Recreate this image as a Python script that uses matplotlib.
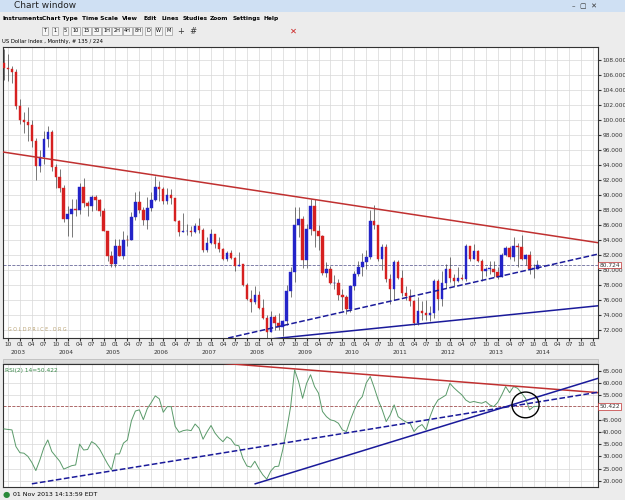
import matplotlib
matplotlib.use("Agg")
import matplotlib.pyplot as plt
import matplotlib.transforms as mtransforms
from matplotlib.patches import Rectangle, Ellipse
import numpy as np

# monthly US Dollar Index, Sep 2002 .. Nov 2013 (month index 0 = Sep 2002)
first_open = 107.6
closes = [
    107.0, 106.9, 106.4, 101.9,
    100.0, 99.8, 99.4, 97.3, 93.9, 95.1, 97.6, 98.4, 93.8, 92.5, 91.0, 86.9,
    87.5, 88.2, 88.0, 91.1, 89.0, 88.6, 89.8, 89.4, 87.9, 85.2, 81.9, 80.9,
    83.3, 81.9, 84.1, 84.0, 87.1, 89.1, 88.1, 86.7, 88.3, 89.4, 91.1, 90.8,
    89.2, 90.1, 89.7, 86.6, 85.1, 85.2, 85.2, 85.1, 85.9, 85.4, 82.8, 83.7,
    84.8, 83.6, 82.9, 81.6, 82.3, 81.7, 80.6, 80.8, 78.0, 76.2, 75.8, 76.7,
    75.0, 73.7, 71.8, 73.8, 73.0, 72.5, 73.2, 77.3, 79.8, 86.0, 86.9, 81.4,
    85.5, 88.6, 85.2, 84.6, 79.7, 80.2, 78.3, 78.3, 76.7, 76.5, 74.9, 77.9,
    79.5, 80.4, 81.1, 81.8, 86.6, 86.0, 81.6, 83.1, 78.9, 77.5, 81.1, 79.0,
    77.0, 76.6, 75.9, 73.0, 74.6, 74.3, 74.1, 74.3, 78.6, 76.2, 78.3, 80.2,
    79.0, 78.6, 79.0, 78.9, 83.2, 81.6, 82.6, 81.2, 79.9, 80.2, 80.2, 79.8,
    79.1, 82.1, 83.0, 81.8, 83.3, 83.1, 81.5, 82.1, 80.2, 80.2, 80.724,
]
highs = [
    109.5, 108.8, 107.3, 106.9,
    102.8, 101.1, 101.8, 100.0, 97.7, 96.1, 98.6, 99.3, 98.7, 94.2, 93.6, 91.4,
    88.6, 89.6, 89.6, 91.7, 92.3, 89.3, 90.0, 90.0, 89.5, 88.3, 85.3, 82.6,
    84.2, 84.2, 85.3, 84.8, 87.8, 90.4, 90.6, 88.5, 89.8, 90.5, 92.6, 91.9,
    91.1, 91.0, 90.9, 89.6, 86.8, 87.7, 86.2, 85.9, 86.3, 87.0, 85.7, 84.4,
    85.5, 84.8, 84.4, 83.0, 82.6, 82.7, 81.8, 82.4, 80.9, 78.3, 77.4, 77.9,
    77.2, 76.2, 74.1, 74.6, 74.0, 74.3, 73.4, 78.0, 80.4, 88.5, 88.5, 87.2,
    86.2, 89.6, 89.5, 86.1, 84.7, 81.1, 80.6, 79.4, 78.9, 77.6, 76.8, 78.1,
    79.9, 81.3, 82.3, 82.8, 88.0, 88.7, 84.9, 83.5, 83.6, 79.5, 81.4, 81.4,
    80.1, 77.9, 77.6, 76.1, 76.5, 75.9, 76.0, 75.3, 78.9, 78.9, 79.9, 80.9,
    81.8, 79.6, 80.5, 79.5, 83.5, 83.0, 83.6, 82.7, 81.6, 80.5, 81.2, 81.2,
    80.5, 82.3, 83.2, 83.2, 84.5, 83.7, 84.8, 82.2, 82.6, 80.9, 81.4,
]
lows = [
    105.4, 105.3, 105.0, 101.6,
    99.5, 98.3, 97.2, 96.4, 92.1, 93.1, 94.2, 96.5, 93.2, 91.0, 90.5, 86.5,
    84.6, 84.5, 87.3, 87.5, 88.4, 87.3, 87.9, 88.1, 87.3, 85.2, 81.3, 80.4,
    80.4, 81.9, 81.6, 83.2, 84.0, 86.8, 87.7, 86.1, 85.6, 87.9, 89.3, 89.3,
    88.8, 88.9, 88.9, 86.6, 84.6, 85.1, 84.8, 84.6, 85.0, 85.0, 82.4, 82.4,
    83.5, 83.0, 82.4, 81.4, 81.2, 81.5, 79.9, 80.6, 77.9, 76.0, 74.5, 75.6,
    74.9, 73.6, 70.7, 71.8, 72.0, 72.0, 71.3, 72.7, 76.4, 78.4, 84.5, 80.3,
    80.3, 84.7, 83.1, 82.8, 79.4, 79.1, 78.2, 77.6, 76.1, 74.7, 74.2, 74.5,
    77.4, 79.2, 79.2, 80.2, 81.6, 85.6, 81.3, 80.1, 78.5, 75.6, 76.1, 78.9,
    76.6, 76.1, 75.3, 72.7, 72.8, 73.4, 73.4, 73.2, 73.7, 74.8, 75.3, 77.7,
    78.5, 77.9, 78.4, 78.7, 78.6, 81.2, 81.5, 81.1, 78.6, 79.2, 79.6, 79.1,
    78.9, 79.1, 81.9, 81.5, 81.3, 80.5, 81.4, 80.8, 79.6, 79.0, 80.2,
]
rsi = [
    41.2, 41.0, 40.8, 34.0, 31.5, 31.3, 30.0, 27.5, 24.2, 28.5, 33.5, 36.7,
    32.0, 30.0, 28.0, 24.8, 25.5, 26.2, 26.5, 35.0, 32.6, 32.8, 36.0, 35.0,
    33.0, 30.0, 27.0, 24.5, 31.0, 31.0, 35.4, 36.7, 44.5, 48.5, 49.0, 45.0,
    49.5, 52.0, 54.7, 53.5, 48.0, 50.3, 50.3, 42.2, 39.8, 40.5, 40.8, 40.5,
    43.2, 41.5, 37.0, 40.0, 42.6, 39.5, 37.5, 36.0, 38.0, 37.0, 34.7, 34.3,
    29.2, 26.1, 25.6, 28.0, 25.0, 22.5, 20.7, 24.0, 25.8, 26.0, 32.6, 40.8,
    50.3, 65.3, 60.5, 53.7, 59.8, 63.3, 58.5, 55.8, 48.3, 46.2, 44.9, 44.5,
    43.5, 40.8, 40.1, 44.9, 49.0, 52.5, 54.4, 60.0, 62.6, 58.0, 53.0, 49.0,
    44.2, 46.9, 51.0, 46.2, 45.0, 44.0, 43.5, 40.1, 42.0, 43.0, 40.8, 46.2,
    50.3, 53.0, 54.0, 55.0, 59.8, 58.0, 56.5, 55.1, 53.0, 52.0, 52.4, 52.0,
    51.7, 52.4, 51.0, 50.3, 52.0, 55.0, 58.5, 56.0, 58.5, 57.8, 55.8, 53.7,
    49.0, 50.3, 50.422,
]
years = list(range(2003, 2015))
quarter_labels = ["01", "04", "07", "10"]
rsi_ticks = [20, 25, 30, 35, 40, 45, 55, 60, 65]

# trendlines as (month index, value) pairs
price_lines = [
    ([-0.3, 149.3], [95.8, 83.7], "#c03030", "-"),
    ([56.3, 149.3], [71.0, 82.2], "#1a1a9a", "--"),
    ([63.8, 149.3], [70.7, 75.3], "#1a1a9a", "-"),
]
rsi_lines = [
    ([52.6, 149.3], [68.3, 56.0], "#c03030", "-"),
    ([7.0, 149.3], [18.8, 56.2], "#1a1a9a", "--"),
    ([63.1, 149.3], [18.8, 61.9], "#1a1a9a", "-"),
]

UP = "#2323c8"
DOWN = "#d62020"
WIN = "#ececec"
GRID = "#d8d8d8"
W, H = 625, 500

fig = plt.figure(figsize=(6.25, 5), dpi=100)
fig.patch.set_facecolor(WIN)


def fx(px):
    return px / W


def fy(py):
    return 1 - py / H


# window chrome
fig.patches.append(Rectangle((0, fy(12)), 1, 12 / H, transform=fig.transFigure,
                             facecolor="#cfe0f3", edgecolor="none"))
fig.text(fx(14), fy(6), "Chart window", fontsize=6.5, va="center", color="#222")
fig.text(fx(572), fy(6), "–  ▢  ✕", fontsize=5, va="center", color="#333")
menu = [("Instruments", 3), ("Chart Type", 42), ("Time Scale", 82), ("View", 122),
        ("Edit", 144), ("Lines", 161), ("Studies", 183), ("Zoom", 210),
        ("Settings", 233), ("Help", 263)]
for m, mx in menu:
    fig.text(fx(mx), fy(18.5), m, fontsize=4.2, fontweight="bold", va="center")
buttons = ["T", "1", "5", "10", "15", "30", "1H", "2H", "4H", "8H", "D", "W", "M"]
bx = 45
for b in buttons:
    fig.text(fx(bx), fy(31), b, fontsize=3.6, va="center", ha="center",
             bbox=dict(boxstyle="square,pad=0.25", fc="#f6f6f6", ec="#888", lw=0.4))
    bx += 10.3
fig.text(fx(178), fy(31), "+  #", fontsize=6, va="center", color="#333")
fig.text(fx(290), fy(31), "✕", fontsize=6, va="center", color="#cc2020")
fig.text(fx(2), fy(41.5), "US Dollar Index , Monthly, # 135 / 224", fontsize=3.8, va="center")

ax = fig.add_axes([fx(3), fy(338), 595 / W, 291 / H])
ax2 = fig.add_axes([fx(3), fy(487), 595 / W, 123 / H])

n = len(closes)
idx = np.arange(n)
opens = [first_open] + closes[:-1]
xlim = (-0.25, 149.2)
qticks = np.arange(1, 150, 3)
qlabels = [quarter_labels[((t + 8) % 12) // 3] for t in qticks]

for a in (ax, ax2):
    a.set_facecolor("white")
    a.set_xlim(*xlim)
    a.set_xticks(qticks)
    a.grid(True, color=GRID, lw=0.5)
    a.set_axisbelow(True)
    a.yaxis.tick_right()
    a.tick_params(axis="y", labelsize=4.2, length=2, pad=1, colors="#333")
    for s in a.spines.values():
        s.set_color("#333")
        s.set_linewidth(0.8)

# candles
for i in idx:
    o, c = opens[i], closes[i]
    col = UP if c >= o else DOWN
    ax.vlines(i, lows[i], highs[i], color="#444", lw=0.5, zorder=2)
    ax.bar(i, max(abs(c - o), 0.08), bottom=min(o, c), width=0.62, color=col,
           edgecolor=col, lw=0.3, zorder=3)

for xs, ys, col, ls in price_lines:
    ax.plot(xs, ys, color=col, ls=ls, lw=1.1, zorder=4)
ax.axhline(closes[-1], color="#6a6a9a", ls="--", lw=0.6, zorder=1)
ax.set_ylim(71.0, 109.8)
ax.set_yticks(np.arange(72, 110, 2))
ax.yaxis.set_major_formatter(matplotlib.ticker.FormatStrFormatter("%.3f"))
ax.set_xticklabels(qlabels, fontsize=4.2)
ax.tick_params(axis="x", length=2, pad=1, colors="#333")
ax.text(1.002, closes[-1], f"{closes[-1]:.3f}", transform=ax.get_yaxis_transform(),
        fontsize=4.2, va="center", color="#333",
        bbox=dict(boxstyle="square,pad=0.15", fc="white", ec="#c03030", lw=0.5))
ax.text(1, 71.8, "G O L D P R I C E . O R G", fontsize=3.5, color="#b8a070", va="bottom")
trans = mtransforms.blended_transform_factory(ax.transData, fig.transFigure)
for k, yr in enumerate(years):
    ax.text(4 + 12 * k - 0.5, fy(352), str(yr), transform=trans, fontsize=4.2,
            ha="center", va="center", color="#333")

# separator bar
fig.patches.append(Rectangle((fx(3), fy(363)), 595 / W, 4 / H, transform=fig.transFigure,
                             facecolor="#dcdcdc", edgecolor="#aaa", lw=0.4))

# RSI panel
ax2.plot(idx, rsi, color="#5a9a6a", lw=0.7, zorder=3)
for xs, ys, col, ls in rsi_lines:
    ax2.plot(xs, ys, color=col, ls=ls, lw=1.1, zorder=4)
ax2.axhline(rsi[-1], color="#a05050", ls="--", lw=0.6, zorder=1)
ax2.add_patch(Ellipse((131.0, 51.0), 6.8, 10.5, fill=False, ec="black", lw=1.0, zorder=5))
ax2.set_ylim(17.5, 67.7)
ax2.set_yticks(rsi_ticks)
ax2.yaxis.set_major_formatter(matplotlib.ticker.FormatStrFormatter("%.3f"))
ax2.tick_params(axis="x", length=0, labelbottom=False)
ax2.text(1.002, rsi[-1], f"{rsi[-1]:.3f}", transform=ax2.get_yaxis_transform(),
         fontsize=4.2, va="center", color="#333",
         bbox=dict(boxstyle="square,pad=0.15", fc="white", ec="#c03030", lw=0.5))
ax2.text(0.003, 0.97, f"RSI(2) 14={rsi[-1]:.3f}", transform=ax2.transAxes,
         fontsize=4.2, va="top", color="#3a8a4a")

# status line
fig.text(fx(3), fy(494), "●", fontsize=6, color="#2a8a3a", va="center")
fig.text(fx(13), fy(494), "01 Nov 2013 14:13:59 EDT", fontsize=4.5, va="center")

fig.savefig("out.png", dpi=100, facecolor=WIN)
